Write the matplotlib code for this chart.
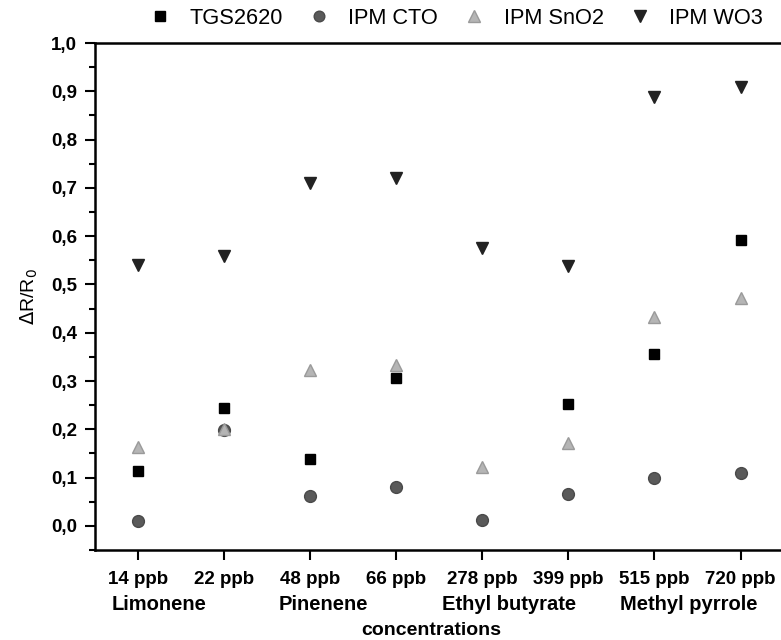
import numpy as np
import matplotlib
matplotlib.use("Agg")
import matplotlib.pyplot as plt
from matplotlib.transforms import blended_transform_factory
from matplotlib.ticker import MultipleLocator, FuncFormatter

plt.rcParams['font.family'] = ['Liberation Sans', 'DejaVu Sans']

conc_labels = ["14 ppb", "22 ppb", "48 ppb", "66 ppb", "278 ppb", "399 ppb", "515 ppb", "720 ppb"]
compounds = ["Limonene", "Pinenene", "Ethyl butyrate", "Methyl pyrrole"]
compound_pos = [0, 2, 4, 6]

tgs2620 = [0.114, 0.244, 0.138, 0.306, np.nan, 0.253, 0.356, 0.593]
ipm_cto = [0.010, 0.198, 0.062, 0.080, 0.012, 0.065, 0.100, 0.110]
ipm_sno2 = [0.163, 0.200, 0.322, 0.333, 0.122, 0.172, 0.433, 0.472]
ipm_wo3 = [0.540, 0.558, 0.710, 0.720, 0.575, 0.538, 0.888, 0.908]

x = np.arange(len(conc_labels))

fig = plt.figure(figsize=(7.81, 6.4), dpi=100)
ax = fig.add_axes([0.1216, 0.1406, 0.8784, 0.7922])

ax.plot(x, tgs2620, 's', color='black', ms=7.5, label='TGS2620', zorder=3)
ax.plot(x, ipm_cto, 'o', color='#5a5a5a', mec='#4a4a4a', ms=8.5, label='IPM CTO', zorder=2)
ax.plot(x, ipm_sno2, '^', color='#b5b5b5', mec='#9a9a9a', ms=9, label='IPM SnO2', zorder=2)
ax.plot(x, ipm_wo3, 'v', color='#222222', ms=9, label='IPM WO3', zorder=3)

ax.set_xlim(-0.5, 7.47)
ax.set_ylim(-0.05, 1.0)
ax.set_xticks(x)
ax.set_xticklabels(conc_labels, fontsize=13.5, fontweight='bold')
ax.yaxis.set_major_locator(MultipleLocator(0.1))
ax.yaxis.set_minor_locator(MultipleLocator(0.05))
ax.yaxis.set_major_formatter(FuncFormatter(lambda v, p: f"{v:.1f}".replace('.', ',')))
ax.tick_params(axis='y', which='major', direction='out', length=7, width=1.5, labelsize=13.5, pad=6)
ax.tick_params(axis='y', which='minor', direction='out', length=4, width=1.5)
ax.tick_params(axis='x', which='major', direction='out', length=7, width=1.5, pad=8)
for lab in ax.get_yticklabels():
    lab.set_fontweight('bold')

for s in ['left', 'bottom', 'top']:
    ax.spines[s].set_linewidth(1.8)
ax.spines['right'].set_visible(False)

ax.set_ylabel(r'$\Delta$R/R$_0$', fontsize=14, labelpad=8)

trans = blended_transform_factory(ax.transData, ax.transAxes)
offsets = [-0.31, -0.37, -0.47, -0.40]
for name, pos, off in zip(compounds, compound_pos, offsets):
    ax.text(pos + off, -0.108, name, transform=trans, ha='left', va='center',
            fontsize=14.5, fontweight='bold')
ax.text(0.49, -0.158, 'concentrations', transform=ax.transAxes, ha='center', va='center',
        fontsize=14, fontweight='bold')

fig.legend(loc='upper center', bbox_to_anchor=(0.584, 1.018), ncol=4, frameon=False,
           fontsize=15.7, handlelength=1.0, handletextpad=0.85, columnspacing=1.15,
           markerscale=0.9)

fig.savefig('out.png', dpi=100)
